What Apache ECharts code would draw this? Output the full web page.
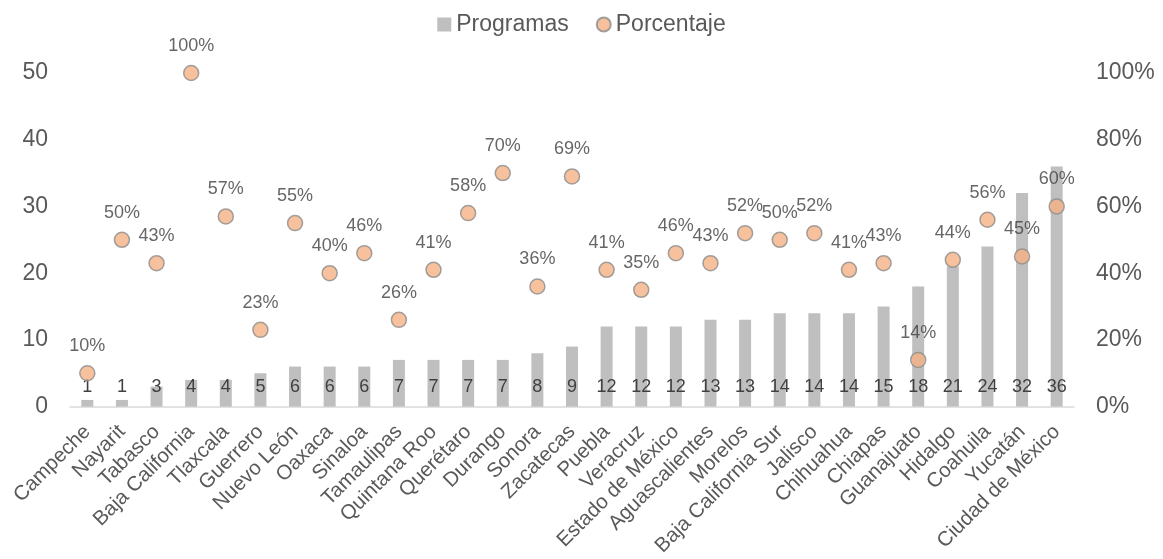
<!DOCTYPE html>
<html>
<head>
<meta charset="utf-8">
<script src="https://cdn.jsdelivr.net/npm/echarts@6/dist/echarts.min.js"></script>
<style>
  html, body { margin: 0; padding: 0; background: #ffffff; }
  #chart { width: 1163px; height: 559px; }
</style>
</head>
<body>
<div id="chart"></div>
<script>
// Entidades federativas, ordered by number of programs
const estados = [
  'Campeche', 'Nayarit', 'Tabasco', 'Baja California', 'Tlaxcala', 'Guerrero',
  'Nuevo León', 'Oaxaca', 'Sinaloa', 'Tamaulipas', 'Quintana Roo', 'Querétaro',
  'Durango', 'Sonora', 'Zacatecas', 'Puebla', 'Veracruz', 'Estado de México',
  'Aguascalientes', 'Morelos', 'Baja California Sur', 'Jalisco', 'Chihuahua',
  'Chiapas', 'Guanajuato', 'Hidalgo', 'Coahuila', 'Yucatán', 'Ciudad de México'
];
const programas = [1, 1, 3, 4, 4, 5, 6, 6, 6, 7, 7, 7, 7, 8, 9, 12, 12, 12, 13, 13, 14, 14, 14, 15, 18, 21, 24, 32, 36];
const porcentaje = [10, 50, 43, 100, 57, 23, 55, 40, 46, 26, 41, 58, 70, 36, 69, 41, 35, 46, 43, 52, 50, 52, 41, 43, 14, 44, 56, 45, 60];
const leftTicks = [0, 10, 20, 30, 40, 50];
const rightTicks = [0, 20, 40, 60, 80, 100];

const FONT = '"Liberation Sans", Arial, sans-serif';
const TEXT = '#595959';
const LABEL = '#404040';

const chart = echarts.init(document.getElementById('chart'), null, { renderer: 'canvas' });

chart.setOption({
  animation: false,
  textStyle: { fontFamily: FONT },
  legend: {
    top: 8,
    left: 'center',
    itemGap: 27,
    itemWidth: 14,
    itemHeight: 14,
    textStyle: { fontSize: 23, color: TEXT, fontFamily: FONT },
    data: [
      { name: 'Programas', icon: 'rect' },
      { name: 'Porcentaje', icon: 'circle' }
    ]
  },
  grid: { left: 70, right: 89, top: 73, bottom: 151, containLabel: false },
  xAxis: {
    type: 'category',
    data: estados,
    axisLine: { lineStyle: { color: '#d9d9d9', width: 1.5 } },
    axisTick: { show: false },
    axisLabel: {
      rotate: 45,
      interval: 0,
      fontSize: 20.5,
      color: TEXT,
      fontFamily: FONT,
      margin: 22
    }
  },
  yAxis: [
    {
      type: 'value',
      min: leftTicks[0],
      max: leftTicks[leftTicks.length - 1],
      interval: 10,
      splitLine: { show: false },
      axisLine: { show: false },
      axisTick: { show: false },
      axisLabel: { fontSize: 23, color: TEXT, fontFamily: FONT, margin: 22 }
    },
    {
      type: 'value',
      min: rightTicks[0],
      max: rightTicks[rightTicks.length - 1],
      interval: 20,
      splitLine: { show: false },
      axisLine: { show: false },
      axisTick: { show: false },
      axisLabel: {
        fontSize: 23, color: TEXT, fontFamily: FONT, margin: 22,
        formatter: v => v + '%'
      }
    }
  ],
  series: [
    {
      name: 'Programas',
      type: 'bar',
      yAxisIndex: 0,
      data: programas,
      barWidth: 12,
      itemStyle: { color: '#bfbfbf' },
      label: {
        show: true,
        position: 'insideBottom',
        distance: 11,
        fontSize: 18,
        color: LABEL,
        fontFamily: FONT
      },
      z: 1
    },
    {
      name: 'Porcentaje',
      type: 'scatter',
      yAxisIndex: 1,
      data: porcentaje,
      symbol: 'circle',
      symbolSize: 15,
      itemStyle: { color: '#f4b183', borderColor: '#8c8c8c', borderWidth: 1.5 },
      label: {
        show: true,
        position: 'top',
        distance: 10,
        fontSize: 18,
        color: LABEL,
        fontFamily: FONT,
        formatter: p => p.value + '%'
      },
      z: 3
    }
  ]
});
</script>
</body>
</html>
